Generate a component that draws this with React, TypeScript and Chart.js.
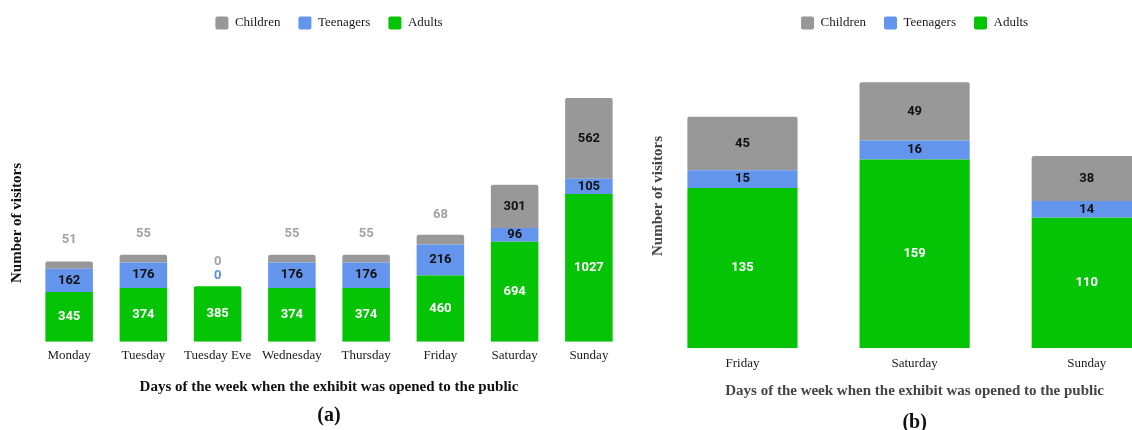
import React, { useEffect, useRef } from "react";
import { Chart, registerables } from "chart.js";

Chart.register(...registerables);

// ---------- data ----------
const categoriesA = ["Monday", "Tuesday", "Tuesday Eve", "Wednesday", "Thursday", "Friday", "Saturday", "Sunday"];
const adultsA = [345, 374, 385, 374, 374, 460, 694, 1027];
const teenagersA = [162, 176, 0, 176, 176, 216, 96, 105];
const childrenA = [51, 55, 0, 55, 55, 68, 301, 562];

const categoriesB = ["Friday", "Saturday", "Sunday"];
const adultsB = [135, 159, 110];
const teenagersB = [15, 16, 14];
const childrenB = [45, 49, 38];

const seriesNames = ["Adults", "Teenagers", "Children"];
const seriesColors = ["#05c405", "#6495ed", "#989898"];

const xTitle = "Days of the week when the exhibit was opened to the public";
const yTitle = "Number of visitors";

const SERIF = "'Liberation Serif', 'Times New Roman', serif";

// label styles per dataset (Adults, Teenagers, Children)
const labelStyles = [
  { inside: "#ffffff", outside: "#ffffff", lift: 11 },
  { inside: "#111111", outside: "#5b8ee8", lift: 11 },
  { inside: "#111111", outside: "#a3a3a3", lift: 25 },
];

function makeLabelPlugin() {
  return {
    id: "stackLabels",
    afterDatasetsDraw(chart: any) {
      const ctx = chart.ctx;
      ctx.save();
      ctx.font = "bold 13px Roboto";
      ctx.textAlign = "center";
      ctx.textBaseline = "middle";
      chart.data.datasets.forEach((ds: any, di: number) => {
        const meta = chart.getDatasetMeta(di);
        const st = labelStyles[di];
        meta.data.forEach((bar: any, i: number) => {
          const v = ds.data[i];
          const p = bar.getProps(["x", "y", "base"], true);
          const h = Math.abs(p.base - p.y);
          const mid = (p.y + p.base) / 2;
          if (h >= 11) {
            ctx.fillStyle = st.inside;
            ctx.fillText(String(v), p.x, mid);
          } else {
            ctx.fillStyle = st.outside;
            ctx.fillText(String(v), p.x, mid - st.lift);
          }
        });
      });
      ctx.restore();
    },
  };
}

function makeYTitlePlugin(x: number, y: number, color: string) {
  return {
    id: "yTitleText",
    afterDraw(chart: any) {
      const ctx = chart.ctx;
      ctx.save();
      ctx.translate(x, y);
      ctx.rotate(-Math.PI / 2);
      ctx.font = `bold 15px ${SERIF}`;
      ctx.fillStyle = color;
      ctx.textAlign = "center";
      ctx.textBaseline = "middle";
      ctx.fillText(yTitle, 0, 0);
      ctx.restore();
    },
  };
}

interface PanelProps {
  categories: string[];
  adults: number[];
  teenagers: number[];
  children: number[];
  yMax: number;
  width: number;
  height: number;
  padding: { left: number; right: number; top: number; bottom: number };
  tickPadding: number;
  xTitlePadTop: number;
  captionPadTop: number;
  caption: string;
  titleColor: string;
  yTitlePos: { x: number; y: number };
}

function Panel(props: PanelProps) {
  const ref = useRef<HTMLCanvasElement | null>(null);
  useEffect(() => {
    if (!ref.current) return;
    const values = [props.adults, props.teenagers, props.children];
    const chart = new Chart(ref.current, {
      type: "bar",
      data: {
        labels: props.categories,
        datasets: seriesNames.map((name, i) => ({
          label: name,
          data: values[i],
          backgroundColor: seriesColors[i],
          borderColor: seriesColors[i],
          borderWidth: 0,
          borderRadius: 2,
          categoryPercentage: 0.8,
          barPercentage: 0.8,
        })),
      },
      options: {
        responsive: false,
        animation: false,
        devicePixelRatio: 1,
        layout: { padding: props.padding },
        scales: {
          x: {
            stacked: true,
            grid: { display: false, drawTicks: false },
            border: { display: false },
            ticks: {
              color: "#1a1a1a",
              padding: props.tickPadding,
              font: { family: SERIF, size: 13 },
              maxRotation: 0,
              autoSkip: false,
            },
            title: {
              display: true,
              text: xTitle,
              color: props.titleColor,
              font: { family: SERIF, size: 15, weight: "bold" },
              padding: { top: props.xTitlePadTop, bottom: 0 },
            },
          },
          y: {
            stacked: true,
            display: false,
            min: 0,
            max: props.yMax,
          },
        },
        plugins: {
          legend: {
            position: "top",
            reverse: true,
            labels: {
              color: "#1a1a1a",
              boxWidth: 13,
              boxHeight: 13,
              padding: 18,
              useBorderRadius: true,
              borderRadius: 2,
              font: { family: SERIF, size: 13 },
            },
          },
          title: {
            display: true,
            position: "bottom",
            text: props.caption,
            color: "#111111",
            font: { family: SERIF, size: 20, weight: "bold", lineHeight: 1 },
            padding: { top: props.captionPadTop, bottom: 0 },
          },
          tooltip: { enabled: false },
        },
      },
      plugins: [makeLabelPlugin(), makeYTitlePlugin(props.yTitlePos.x, props.yTitlePos.y, props.titleColor)],
    } as any);
    return () => chart.destroy();
  }, []);
  return <canvas ref={ref} width={props.width} height={props.height} style={{ display: "block" }} />;
}

export default function App() {
  return (
    <div
      style={{
        position: "absolute",
        left: 0,
        top: 0,
        width: 1132,
        height: 430,
        overflow: "hidden",
        background: "#ffffff",
      }}
    >
      <div style={{ position: "absolute", left: 0, top: 0 }}>
        <Panel
          categories={categoriesA}
          adults={adultsA}
          teenagers={teenagersA}
          children={childrenA}
          yMax={2100}
          width={640}
          height={427}
          padding={{ left: 32, right: 14, top: -1.5, bottom: 1 }}
          tickPadding={6.5}
          xTitlePadTop={7.7}
          captionPadTop={10}
          caption="(a)"
          titleColor="#111111"
          yTitlePos={{ x: 17, y: 223 }}
        />
      </div>
      <div style={{ position: "absolute", left: 640, top: 0 }}>
        <Panel
          categories={categoriesB}
          adults={adultsB}
          teenagers={teenagersB}
          children={childrenB}
          yMax={260}
          width={540}
          height={434}
          padding={{ left: 16.4, right: 7.2, top: -1.5, bottom: 1 }}
          tickPadding={7.9}
          xTitlePadTop={2.3}
          captionPadTop={13}
          caption="(b)"
          titleColor="#454545"
          yTitlePos={{ x: 18, y: 196 }}
        />
      </div>
    </div>
  );
}
